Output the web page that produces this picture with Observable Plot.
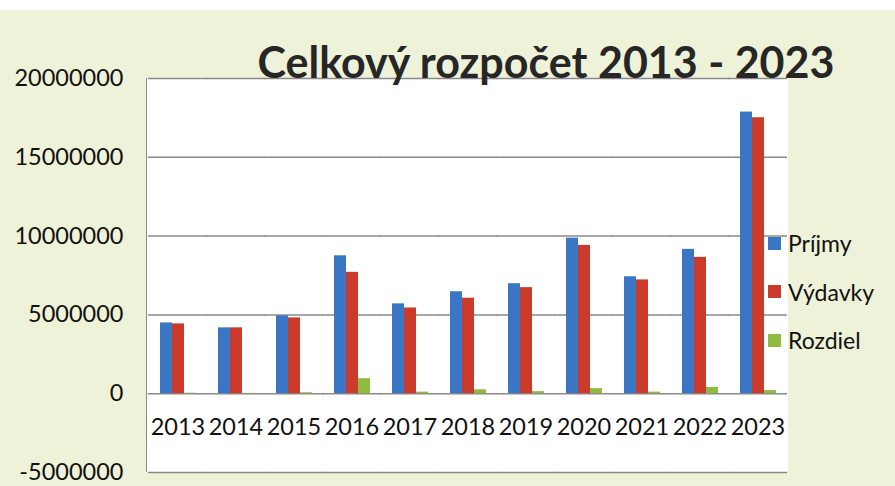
<!DOCTYPE html>
<html>
<head>
<meta charset="utf-8">
<script src="https://cdn.jsdelivr.net/npm/d3@7"></script>
<script src="https://cdn.jsdelivr.net/npm/@observablehq/plot@0.6"></script>
<style>
  body { margin: 0; background: #ffffff; }
  #wrap { position: relative; width: 895px; height: 486px; overflow: hidden; font-family: Lato, "Open Sans", sans-serif; }
  #bg { position: absolute; left: 0; top: 10px; width: 895px; height: 476px; background: #eef2d8; }
  #plotbg { position: absolute; left: 146px; top: 78px; width: 642px; height: 394px; background: #ffffff; box-sizing: border-box; border-left: 1.5px solid #8a8a8a; }
  #chart { position: absolute; left: 0; top: 0; }
  #title { position: absolute; left: 246px; width: 600px; top: 40px; text-align: center; font-weight: bold; font-size: 43px; line-height: 43px; color: #262626; white-space: nowrap; }
  #legend { position: absolute; left: 768px; top: 219px; }
  .row { display: flex; align-items: center; height: 48.5px; font-size: 23px; color: #111; }
  .sw { width: 13px; height: 13px; margin-right: 7px; }
</style>
</head>
<body>
<div id="wrap">
  <div id="bg"></div>
  <div id="plotbg"></div>
  <div id="chart"></div>
  <div id="title">Celkový rozpočet 2013 - 2023</div>
  <div id="legend"></div>
</div>
<script>
const years = ["2013","2014","2015","2016","2017","2018","2019","2020","2021","2022","2023"];
const seriesNames = ["Príjmy", "Výdavky", "Rozdiel"];
const seriesColors = ["#3b76c4", "#cb3b2c", "#8fbb3f"];
const prijmy  = [4490000, 4180000, 4940000, 8750000, 5700000, 6470000, 6980000, 9870000, 7420000, 9160000, 17870000];
const vydavky = [4430000, 4180000, 4810000, 7700000, 5440000, 6060000, 6730000, 9410000, 7220000, 8650000, 17510000];
const rozdiel = [30000, 20000, 60000, 950000, 100000, 250000, 130000, 320000, 100000, 400000, 200000];
const yTicks = [-5000000, 0, 5000000, 10000000, 15000000, 20000000];

const rows = years.flatMap((yr, i) => [
  {year: yr, series: seriesNames[0], value: prijmy[i]},
  {year: yr, series: seriesNames[1], value: vydavky[i]},
  {year: yr, series: seriesNames[2], value: rozdiel[i]}
]);

const chart = Plot.plot({
  width: 895,
  height: 486,
  marginLeft: 146,
  marginRight: 107,
  marginTop: 78,
  marginBottom: 14,
  style: {background: "transparent", fontFamily: "Lato, 'Open Sans', sans-serif", fontSize: "23px", color: "#111"},
  fx: {domain: years, paddingInner: 0.365, paddingOuter: 0.16, axis: null, label: null},
  x: {domain: seriesNames, padding: 0, axis: null},
  y: {domain: [-5000000, 20000000], axis: null},
  color: {domain: seriesNames, range: seriesColors},
  marks: [
    Plot.ruleY(yTicks, {stroke: "#8a8a8a", strokeWidth: 1.5, insetLeft: -11, insetRight: -11}),
    Plot.barY(rows, {fx: "year", x: "series", y: "value", fill: "series"}),
    Plot.text(years, {fx: d => d, y: () => 0, text: d => d, dy: 34, fontSize: 23.5, fill: "#111"}),
    Plot.axisY(yTicks, {tickFormat: d => String(d), tickSize: 0, tickPadding: 36, fontSize: 23.5, label: null, fill: "#111"})
  ]
});
document.getElementById("chart").appendChild(chart);

const legend = document.getElementById("legend");
seriesNames.forEach((name, i) => {
  const row = document.createElement("div");
  row.className = "row";
  const sw = document.createElement("div");
  sw.className = "sw";
  sw.style.background = seriesColors[i];
  const label = document.createElement("span");
  label.textContent = name;
  row.appendChild(sw);
  row.appendChild(label);
  legend.appendChild(row);
});
</script>
</body>
</html>
